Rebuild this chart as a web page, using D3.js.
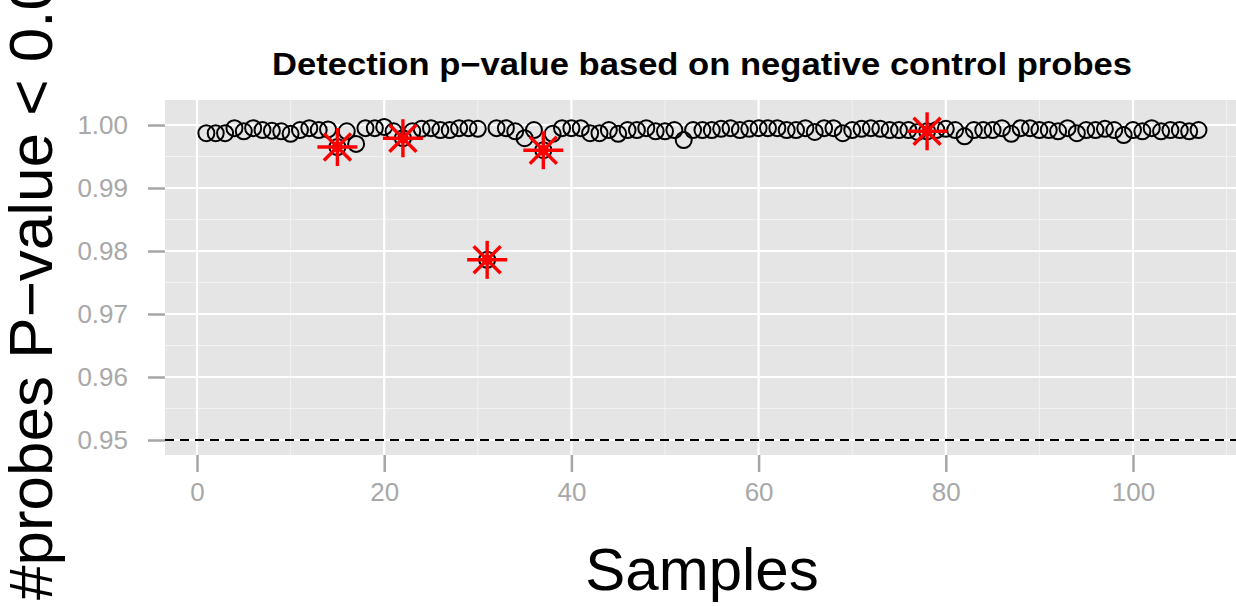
<!DOCTYPE html>
<html><head><meta charset="utf-8">
<script src="https://cdn.jsdelivr.net/npm/d3@7"></script>
<style>body{margin:0;background:#fff}svg{display:block;font-family:"Liberation Sans",Arial,sans-serif}</style>
</head><body>
<svg id="c" width="1236" height="606"></svg>
<script>
const pvalues = [0.9987,0.9987,0.9987,0.9995,0.9990,0.9995,0.9992,0.9991,0.9990,0.9986,
0.9992,0.9995,0.9992,0.9993,0.9965,0.9990,0.9970,0.9995,0.9995,0.9997,
0.9990,0.9979,0.9990,0.9994,0.9995,0.9992,0.9992,0.9995,0.9995,0.9994,
0.9786,0.9995,0.9995,0.9990,0.9979,0.9992,0.9960,0.9986,0.9995,0.9995,
0.9995,0.9987,0.9987,0.9992,0.9986,0.9992,0.9992,0.9995,0.9990,0.9990,
0.9992,0.9976,0.9992,0.9992,0.9992,0.9994,0.9995,0.9992,0.9994,0.9995,
0.9995,0.9995,0.9992,0.9992,0.9995,0.9989,0.9995,0.9995,0.9987,0.9992,
0.9994,0.9995,0.9994,0.9992,0.9992,0.9992,0.9989,0.9990,0.9992,0.9994,
0.9992,0.9982,0.9992,0.9992,0.9992,0.9995,0.9986,0.9995,0.9995,0.9992,
0.9992,0.9990,0.9995,0.9987,0.9992,0.9992,0.9994,0.9992,0.9984,0.9992,
0.9990,0.9995,0.9990,0.9992,0.9992,0.9990,0.9992];
const flagged = [15,22,31,37,78];
const xTicks = [0,20,40,60,80,100];
const xMinor = [10,30,50,70,90,110];
const yTicks = [0.95,0.96,0.97,0.98,0.99,1.00];
const yMinor = [0.955,0.965,0.975,0.985,0.995];
const threshold = 0.95;
const titleText = "Detection p\u2212value based on negative control probes";
const xLabel = "Samples";
const yLabel = "#probes P\u2212value < 0.05";

const svg = d3.select("#c");
const L=165, R=1240, T=100, B=455;
const x = d3.scaleLinear().domain([0,100]).range([197,1133]);
const y = d3.scaleLinear().domain([0.95,1.00]).range([440,125]);

svg.append("rect").attr("x",L).attr("y",T).attr("width",R-L).attr("height",B-T).attr("fill","#E5E5E5");
const g = svg.append("g");
yMinor.forEach(v=>g.append("line").attr("x1",L).attr("x2",R).attr("y1",y(v)).attr("y2",y(v)).attr("stroke","#F2F2F2").attr("stroke-width",1));
xMinor.forEach(v=>g.append("line").attr("y1",T).attr("y2",B).attr("x1",x(v)).attr("x2",x(v)).attr("stroke","#F2F2F2").attr("stroke-width",1));
yTicks.forEach(v=>g.append("line").attr("x1",L).attr("x2",R).attr("y1",y(v)).attr("y2",y(v)).attr("stroke","#fff").attr("stroke-width",2.2));
xTicks.forEach(v=>g.append("line").attr("y1",T).attr("y2",B).attr("x1",x(v)).attr("x2",x(v)).attr("stroke","#fff").attr("stroke-width",2.2));

// axes
const ya = svg.append("g").attr("transform",`translate(${L},0)`)
  .call(d3.axisLeft(y).tickValues(yTicks).tickFormat(d3.format(".2f")).tickSize(17).tickPadding(20));
const xa = svg.append("g").attr("transform",`translate(0,${B})`)
  .call(d3.axisBottom(x).tickValues(xTicks).tickFormat(d3.format("d")).tickSize(17).tickPadding(11));
[ya,xa].forEach(a=>{a.select(".domain").remove();
  a.selectAll(".tick line").attr("stroke","#A6A6A6").attr("stroke-width",2.5);
  a.selectAll(".tick text").attr("fill","#A8A8A8").attr("font-size",26).attr("font-family","Liberation Sans, Arial, sans-serif");});

// threshold dashed line
svg.append("line").attr("x1",L).attr("x2",1236).attr("y1",y(threshold)).attr("y2",y(threshold))
  .attr("stroke","#000").attr("stroke-width",2.2).attr("stroke-dasharray","9,6");

// points
const data = pvalues.map((v,i)=>({s:i+1,v}));
svg.append("g").selectAll("circle").data(data).join("circle")
  .attr("cx",d=>x(d.s)).attr("cy",d=>y(d.v)).attr("r",8)
  .attr("fill","none").attr("stroke","#000").attr("stroke-width",2);

// flagged asterisks
const fl = data.filter(d=>flagged.includes(d.s));
const ast = svg.append("g").selectAll("g").data(fl).join("g")
  .attr("transform",d=>`translate(${x(d.s)},${y(d.v)})`);
ast.append("circle").attr("r",5).attr("fill","#000");
const segs=[[-20,0,20,0],[0,-19,0,19],[-13.5,-13.5,13.5,13.5],[-13.5,13.5,13.5,-13.5]];
segs.forEach(s=>ast.append("line").attr("x1",s[0]).attr("y1",s[1]).attr("x2",s[2]).attr("y2",s[3])
  .attr("stroke","#FF0000").attr("stroke-width",3.4));

// texts
svg.append("text").attr("x",702).attr("y",75).attr("text-anchor","middle")
  .attr("font-weight","bold").attr("font-size",31)
  .attr("textLength",860).attr("lengthAdjust","spacingAndGlyphs").text(titleText);
svg.append("text").attr("x",702).attr("y",590).attr("text-anchor","middle")
  .attr("font-size",60).text(xLabel);
svg.append("text").attr("transform","translate(52,600) rotate(-90)").attr("text-anchor","start")
  .attr("font-size",62).text(yLabel);
</script>
</body></html>
